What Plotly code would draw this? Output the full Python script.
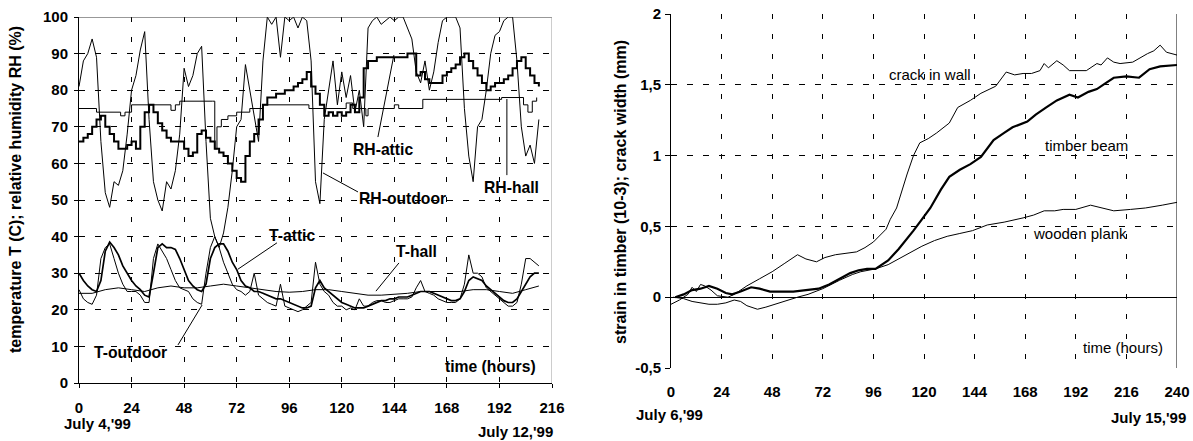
import plotly.graph_objects as go

# ---------------- Left chart data (July 4-12, 1999) ----------------
hours_left = list(range(0, 212, 2))

rh_outdoor = [81, 88, 90, 94, 89, 66, 52, 48, 55, 54,
              58, 68, 80, 84, 91, 96, 72, 55, 50, 47,
              55, 53, 58, 68, 86, 81, 84, 90, 92, 66,
              45, 40, 37, 41, 48, 58, 70, 72, 87, 80,
              74, 66, 88, 100, 98, 100, 89, 100, 99, 100,
              97, 100, 99, 88, 55, 49, 72, 80, 88, 76,
              85, 78, 84, 74, 80, 70, 97, 99, 100, 98,
              99, 100, 99, 100, 100, 97, 94, 85, 82, 88,
              80, 85, 93, 99, 100, 100, 100, 97, 75, 62,
              55, 70, 72, 80, 90, 95, 96, 99, 100, 100,
              88, 70, 62, 65, 60, 72]

rh_attic = [66, 67, 68, 70, 72, 73, 70, 68, 66, 64,
            64, 65, 66, 64, 70, 74, 76, 74, 71, 69,
            67, 66, 66, 66, 64, 62, 63, 68, 69, 67,
            66, 64, 63, 62, 60, 58, 56, 55, 62, 66,
            68, 72, 76, 78, 78, 79, 79, 80, 80, 81,
            82, 83, 85, 81, 79, 76, 73, 74, 73, 74,
            73, 74, 76, 74, 78, 86, 88, 88, 89, 89,
            89, 89, 89, 89, 89, 90, 90, 84, 85, 83,
            82, 82, 82, 84, 85, 86, 87, 89, 90, 88,
            86, 84, 82, 80, 81, 82, 82, 83, 84, 86,
            88, 89, 86, 84, 82, 81]

rh_hall_hours = [0, 8, 19, 21, 24, 42, 44, 46, 61, 62,
                 63, 65, 68, 72, 78, 84, 105, 122, 125, 131,
                 132, 144, 146, 157, 193, 203, 205, 207, 209]
rh_hall = [75, 74, 73, 74, 76, 74.5, 76, 77, 77, 64,
           70, 72, 73, 74, 75, 76, 75, 76.5, 75, 73,
           75, 76, 75, 77.5, 78, 76, 74, 77, 78]

t_outdoor = [25.5, 23, 22, 21.5, 24, 34, 37, 38, 34, 30,
             27, 25, 25, 25, 24, 22, 22, 34, 38, 36,
             34, 31, 28, 26, 25.5, 25, 23, 22, 21.5, 30,
             37, 40, 37, 33, 30, 27, 25.5, 25, 24, 25,
             30, 24, 23, 22, 21.5, 21, 27, 21, 20.5, 20,
             19.5, 20, 21, 22, 33, 27, 25, 24, 22, 21,
             21, 20, 20.5, 20, 23, 21, 21, 22, 22.5, 22.5,
             22, 22, 22.5, 23, 23, 23, 23.5, 26, 28, 25,
             24.5, 24, 23, 22.5, 22, 22, 22, 23, 27, 35,
             30, 30, 29, 26, 25, 24, 23, 22, 21, 21,
             22, 27, 34, 34, 33, 32]

t_attic = [30, 28, 26.5, 25.5, 25, 28, 36, 38.5, 37, 35,
           32, 30, 28, 26.5, 25.5, 24, 23.5, 30, 37, 38,
           37, 37, 36.5, 34, 31, 28, 26.5, 25.5, 25, 27,
           34, 37, 38, 38, 36, 33, 31, 28, 26.5, 26,
           25, 25, 24.5, 24, 23.5, 23, 23, 22.5, 22, 21.5,
           21, 20.5, 20.5, 21, 26, 28, 26, 25, 24, 23,
           22, 21.5, 21, 20.5, 20.5, 20.5, 21, 21.5, 22, 22.5,
           22.5, 23, 23, 23.5, 23.5, 23.5, 24, 24.5, 25, 25,
           25, 24.5, 24, 23.5, 23, 22.5, 22.5, 23, 25, 28,
           29, 28.5, 28, 26.5, 25.5, 24.5, 23.5, 22.5, 22, 22,
           23, 25, 27, 29, 30, 30]

t_hall_hours = list(range(0, 211, 6))
t_hall = [24.5, 24.5, 25.5, 26, 25.5, 25, 26, 26.5, 26, 26,
          26.5, 27, 26.5, 26, 25.5, 25, 24.8, 25, 25.5, 25.5,
          25, 24.5, 24, 24, 24.2, 24.5, 25, 25, 24.8, 25,
          25.5, 25.5, 25, 24.5, 25.5, 26.5]

left_xticks = [0, 24, 48, 72, 96, 120, 144, 168, 192, 216]
left_yticks = [0, 10, 20, 30, 40, 50, 60, 70, 80, 90, 100]

# ---------------- Right chart data (July 6-15, 1999) ----------------
crack_hours = [0, 4, 8, 10, 12, 14, 16, 19, 22, 27,
               30, 36, 42, 48, 54, 60, 64, 69, 73, 78,
               83, 88, 92, 96, 102, 104, 107, 110, 112, 115,
               118, 122, 126, 132, 136, 142, 147, 154, 159, 163,
               167, 171, 175, 177, 179, 183, 186, 189, 193, 197,
               202, 204, 207, 210, 213, 219, 226, 229, 232, 235, 240]
crack_wall = [-0.05, -0.02, 0.02, 0.07, 0.04, 0.09, 0.08, 0.05, 0.01, 0.0,
              0.02, 0.08, 0.13, 0.18, 0.24, 0.30, 0.27, 0.25, 0.28, 0.30,
              0.31, 0.32, 0.35, 0.39, 0.48, 0.55, 0.63, 0.78, 0.87, 1.0,
              1.09, 1.12, 1.16, 1.23, 1.34, 1.39, 1.44, 1.49, 1.59, 1.57,
              1.58, 1.58, 1.60, 1.65, 1.62, 1.67, 1.64, 1.60, 1.60, 1.60,
              1.65, 1.64, 1.69, 1.66, 1.65, 1.66, 1.72, 1.74, 1.78, 1.73, 1.71]

beam_hours = [2, 6, 10, 14, 18, 22, 26, 29, 33, 38,
              42, 47, 52, 58, 64, 70, 75, 80, 85, 89,
              93, 97, 100, 103, 108, 112, 115, 119, 123, 128,
              132, 137, 142, 147, 153, 158, 162, 169, 173, 178,
              183, 189, 193, 198, 202, 206, 210, 216, 222, 227,
              232, 240]
timber_beam = [0.0, 0.02, 0.05, 0.06, 0.08, 0.06, 0.03, 0.02, 0.04, 0.07,
               0.06, 0.04, 0.04, 0.04, 0.05, 0.06, 0.09, 0.13, 0.17, 0.19,
               0.20, 0.20, 0.23, 0.26, 0.34, 0.41, 0.47, 0.55, 0.63, 0.76,
               0.85, 0.90, 0.94, 0.99, 1.11, 1.16, 1.20, 1.24, 1.29, 1.34,
               1.39, 1.43, 1.41, 1.45, 1.47, 1.51, 1.55, 1.56, 1.55, 1.61,
               1.63, 1.64]

plank_hours = [1, 6, 10, 14, 18, 22, 26, 30, 33, 36,
               41, 45, 49, 56, 60, 65, 72, 80, 86, 90,
               97, 103, 108, 113, 119, 125, 131, 137, 143, 150,
               158, 167, 172, 177, 182, 186, 192, 199, 205, 210,
               218, 225, 233, 240]
wooden_plank = [0.0, -0.01, -0.03, -0.04, -0.05, -0.05, -0.04, -0.02, -0.03, -0.06,
                -0.085, -0.07, -0.05, -0.02, 0.0, 0.02, 0.06, 0.12, 0.16, 0.18,
                0.20, 0.23, 0.27, 0.31, 0.36, 0.40, 0.43, 0.45, 0.47, 0.51,
                0.53, 0.56, 0.58, 0.61, 0.61, 0.62, 0.62, 0.65, 0.63, 0.61,
                0.62, 0.63, 0.65, 0.67]

right_xticks = [0, 24, 48, 72, 96, 120, 144, 168, 192, 216, 240]
right_yticks = [-0.5, 0, 0.5, 1, 1.5, 2]
right_yticktext = ["-0,5", "0", "0,5", "1", "1,5", "2"]

# ---------------- Figure ----------------
W, H = 1193, 441
FONT = "Liberation Sans, Arial, sans-serif"
TICKF = dict(family=FONT, size=15, color="black", weight="bold")
BOLDL = dict(family=FONT, size=15.7, color="black", weight="bold")
REG15 = dict(family=FONT, size=15, color="black")
TITLEF = dict(family=FONT, size=16, color="black", weight="bold")

fig = go.Figure()

def add(x, y, width, xa, ya, shape="linear"):
    fig.add_trace(go.Scatter(x=x, y=y, mode="lines", xaxis=xa, yaxis=ya,
                             line=dict(color="black", width=width, shape=shape),
                             showlegend=False, hoverinfo="skip"))

add(t_hall_hours, t_hall, 1, "x", "y")
add(hours_left, t_outdoor, 1, "x", "y")
add(hours_left, t_attic, 1.7, "x", "y")
add(rh_hall_hours, rh_hall, 1, "x", "y", shape="hv")
add(hours_left, rh_outdoor, 1, "x", "y")
add(hours_left, rh_attic, 2, "x", "y", shape="hv")

add(plank_hours, wooden_plank, 1, "x2", "y2")
add(crack_hours, crack_wall, 1, "x2", "y2")
add(beam_hours, timber_beam, 2.2, "x2", "y2")

common_axis = dict(color="black", showgrid=True, gridcolor="black", gridwidth=1,
                   tickfont=TICKF, zeroline=False, tickcolor="black",
                   linecolor="black", linewidth=1, fixedrange=True,
                   automargin=False)

fig.update_layout(
    template="none",
    width=W, height=H,
    margin=dict(l=0, r=0, t=0, b=0, pad=0, autoexpand=False),
    paper_bgcolor="white", plot_bgcolor="white",
    xaxis=dict(domain=[79 / W, 552 / W], range=[0, 216], anchor="y",
               tickvals=left_xticks, ticks="outside", ticklen=4,
               showline=True, griddash="5px,15px", ticklabelstandoff=7,
               **common_axis),
    yaxis=dict(domain=[1 - 383 / H, 1 - 17 / H], range=[0, 100], anchor="x",
               tickvals=left_yticks, ticks="outside", ticklen=4,
               showline=True, griddash="6px,10px", ticklabelstandoff=3,
               **common_axis),
    xaxis2=dict(domain=[671 / W, 1177 / W], range=[0, 240], anchor="y2",
                tickvals=right_xticks, ticks="", showline=False,
                griddash="5px,15px", ticklabelstandoff=13,
                **common_axis),
    yaxis2=dict(domain=[1 - 368 / H, 1 - 14 / H], range=[-0.5, 2], anchor="x2",
                tickvals=right_yticks, ticktext=right_yticktext,
                ticks="outside", ticklen=5, showline=True,
                griddash="6px,10px", ticklabelstandoff=1,
                **common_axis),
)
fig.layout.yaxis2.zeroline = True
fig.layout.yaxis2.zerolinecolor = "black"
fig.layout.yaxis2.zerolinewidth = 1

# borders
fig.add_shape(type="line", xref="x", yref="y", x0=0, x1=216, y0=100, y1=100,
              line=dict(color="#333333", width=1))
fig.add_shape(type="line", xref="x", yref="y", x0=216, x1=216, y0=0, y1=100,
              line=dict(color="#9a9a9a", width=1))
fig.add_shape(type="line", xref="x2", yref="y2", x0=240, x1=240, y0=-0.5, y1=2,
              line=dict(color="black", width=1))

# leader lines (left chart)
leaders = [
    (136.5, 67.2, 143.8, 89.6),   # RH-attic
    (127.4, 52.2, 111.4, 57.4),   # RH-outdoor
    (195.4, 56.8, 195.4, 77.6),   # RH-hall
    (90.4, 38.3, 72.6, 31.1),     # T-attic
    (45.2, 10.4, 56.2, 21.3),     # T-outdoor
    (146.1, 32.8, 135.6, 25.1),   # T-hall
]
for x0, y0, x1, y1 in leaders:
    fig.add_shape(type="line", xref="x", yref="y", x0=x0, y0=y0, x1=x1, y1=y1,
                  line=dict(color="black", width=1))

def label(text, x, y, xref, yref, font, **kw):
    fig.add_annotation(text=text, x=x, y=y, xref=xref, yref=yref,
                       showarrow=False, font=font, xanchor="center",
                       yanchor="middle", **kw)

label("RH-attic", 138.8, 63.7, "x", "y", BOLDL)
label("RH-outdoor", 147.5, 50.3, "x", "y", BOLDL)
label("RH-hall", 197.7, 53.3, "x", "y", BOLDL)
label("T-attic", 97.3, 40.4, "x", "y", BOLDL)
label("T-outdoor", 23.3, 8.2, "x", "y", BOLDL)
label("T-hall", 154.3, 35.8, "x", "y", BOLDL)
label("time (hours)", 187.7, 4.6, "x", "y", BOLDL)

label("crack in wall", 122.9, 1.575, "x2", "y2", REG15)
label("timber beam", 197.3, 1.073, "x2", "y2", REG15)
label("wooden plank", 194, 0.452, "x2", "y2", REG15)
label("time (hours)", 214.4, -0.353, "x2", "y2", REG15)

label("July 4,'99", 97 / W, 1 - 423 / H, "paper", "paper", TICKF)
label("July 12,'99", 515 / W, 1 - 431 / H, "paper", "paper", TICKF)
label("July 6,'99", 669 / W, 1 - 414 / H, "paper", "paper", TICKF)
label("July 15,'99", 1148 / W, 1 - 417 / H, "paper", "paper", TICKF)

label("temperature T (C); relative humidity RH (%)", 16 / W, 1 - 190 / H,
      "paper", "paper", TITLEF, textangle=-90)
label("strain in timber (10-3); crack width (mm)", 620 / W, 1 - 192 / H,
      "paper", "paper", TITLEF, textangle=-90)

fig.write_html("out.html",
               config={"displayModeBar": False, "staticPlot": True},
               post_script="document.body.style.margin='0px';"
                           "document.body.style.overflow='hidden';")
